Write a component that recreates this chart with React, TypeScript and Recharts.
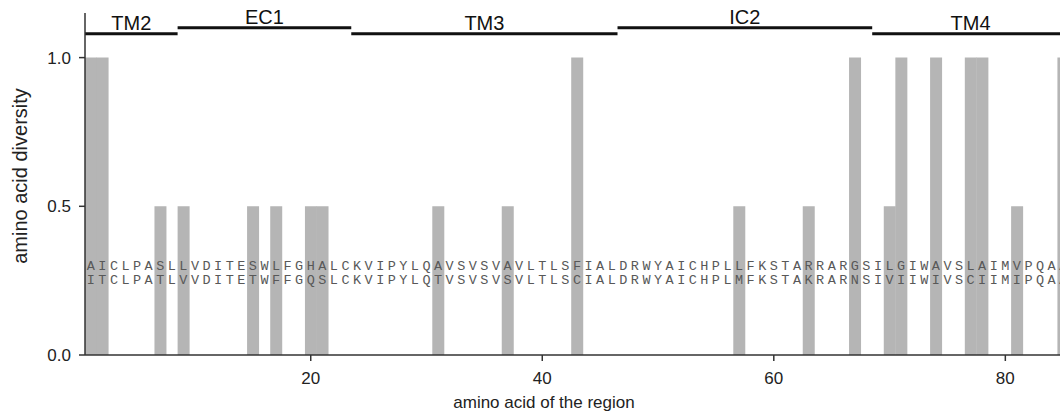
import React from 'react';
import { ComposedChart, Bar, Scatter, XAxis, YAxis, ReferenceLine, Label } from 'recharts';

// amino acid positions of the region (categories)
const positions: number[] = [
  1, 2, 3, 4, 5, 6, 7, 8, 9, 10, 11, 12, 13, 14, 15, 16, 17, 18, 19, 20,
  21, 22, 23, 24, 25, 26, 27, 28, 29, 30, 31, 32, 33, 34, 35, 36, 37, 38, 39, 40,
  41, 42, 43, 44, 45, 46, 47, 48, 49, 50, 51, 52, 53, 54, 55, 56, 57, 58, 59, 60,
  61, 62, 63, 64, 65, 66, 67, 68, 69, 70, 71, 72, 73, 74, 75, 76, 77, 78, 79, 80,
  81, 82, 83, 84, 85,
];

// amino acid diversity per position
const diversity: number[] = [
  1, 1, 0, 0, 0, 0, 0.5, 0, 0.5, 0,
  0, 0, 0, 0, 0.5, 0, 0.5, 0, 0, 0.5,
  0.5, 0, 0, 0, 0, 0, 0, 0, 0, 0,
  0.5, 0, 0, 0, 0, 0, 0.5, 0, 0, 0,
  0, 0, 1, 0, 0, 0, 0, 0, 0, 0,
  0, 0, 0, 0, 0, 0, 0.5, 0, 0, 0,
  0, 0, 0.5, 0, 0, 0, 1, 0, 0, 0.5,
  1, 0, 0, 1, 0, 0, 1, 1, 0, 0,
  0.5, 0, 0, 0, 1,
];

// aligned sequences
const seqTop = 'AICLPASLLVDITESWLFGHALCKVIPYLQAVSVSVAVLTLSFIALDRWYAICHPLLFKSTARRARGSILGIWAVSLAIMVPQAA';
const seqBottom = 'ITCLPATLVVDITETWFFGQSLCKVIPYLQTVSVSVSVLTLSCIALDRWYAICHPLMFKSTAKRARNSIVIIWIVSCIIMIPQAA';

// membrane topology regions
const regionNames: string[] = ['TM2', 'EC1', 'TM3', 'IC2', 'TM4'];
const regionStarts: number[] = [0.5, 8.5, 23.5, 46.5, 68.5];
const regionEnds: number[] = [8.5, 23.5, 46.5, 68.5, 85.5];

const xTicks: number[] = [20, 40, 60, 80];
const yTicks: number[] = [0, 0.5, 1];

// layout constants (y levels in data units)
const ROW_TOP_Y = 0.299;
const ROW_BOTTOM_Y = 0.251;
const LEVEL_LOW = 1.08;
const LEVEL_HIGH = 1.1;

const data = positions.map((p, i) => ({ pos: p, v: diversity[i] }));
const seqPoints = [
  ...positions.map((p, i) => ({ pos: p, v: ROW_TOP_Y, ch: seqTop[i] })),
  ...positions.map((p, i) => ({ pos: p, v: ROW_BOTTOM_Y, ch: seqBottom[i] })),
];

const SANS = "'Liberation Sans', Arial, Helvetica, sans-serif";
const SEQ_FONT = "'Liberation Mono', 'Courier New', monospace";

const renderChar = (props: any) => {
  const { cx, cy, payload } = props;
  if (cx == null || cy == null) return <g />;
  return (
    <text
      x={cx}
      y={cy}
      textAnchor="middle"
      dominantBaseline="central"
      fontFamily={SEQ_FONT}
      fontSize={13.5}
      fill="#585858"
    >
      {payload.ch}
    </text>
  );
};

export default function App() {
  return (
    <div
      style={{
        position: 'fixed',
        left: 0,
        top: 0,
        width: 1060,
        height: 413,
        overflow: 'hidden',
        background: '#fff',
      }}
    >
      <ComposedChart
        width={1070}
        height={413}
        data={data}
        margin={{ top: 13, right: 1, left: 0, bottom: 0 }}
        barCategoryGap={0}
        barGap={0}
      >
        <XAxis
          dataKey="pos"
          type="number"
          domain={[0.5, 85.5]}
          ticks={xTicks}
          allowDataOverflow
          height={58}
          tickSize={6}
          tickMargin={11}
          stroke="#333"
          strokeWidth={1.5}
          tick={{ fill: '#222', fontSize: 17, fontFamily: SANS }}
        >
          <Label
            value="amino acid of the region"
            position="insideBottom"
            offset={5}
            dx={-33}
            fill="#222"
            fontSize={17}
            fontFamily={SANS}
          />
        </XAxis>
        <XAxis xAxisId="seq" dataKey="pos" type="number" domain={[0.5, 85.5]} hide allowDataOverflow />
        <YAxis
          type="number"
          domain={[0, 1.15]}
          ticks={yTicks}
          allowDataOverflow
          width={85}
          tickSize={6}
          tickMargin={8}
          stroke="#333"
          strokeWidth={1.5}
          tickFormatter={(v: number) => v.toFixed(1)}
          tick={{ fill: '#222', fontSize: 17, fontFamily: SANS }}
        >
          <Label
            value="amino acid diversity"
            angle={-90}
            position="insideLeft"
            offset={20}
            dy={-8}
            fill="#222"
            fontSize={20}
            fontFamily={SANS}
            style={{ textAnchor: 'middle' }}
          />
        </YAxis>
        <Bar dataKey="v" fill="#b5b5b5" isAnimationActive={false} />
        <Scatter
          xAxisId="seq"
          data={seqPoints}
          dataKey="v"
          shape={renderChar}
          isAnimationActive={false}
        />
        {regionNames.map((name, i) => (
          <ReferenceLine
            key={name}
            segment={[
              { x: regionStarts[i], y: i % 2 === 0 ? LEVEL_LOW : LEVEL_HIGH },
              { x: regionEnds[i], y: i % 2 === 0 ? LEVEL_LOW : LEVEL_HIGH },
            ]}
            stroke="#111"
            strokeWidth={3}
            ifOverflow="visible"
            label={{ value: name, position: 'top', offset: 4, fill: '#111', fontSize: 20, fontFamily: SANS }}
          />
        ))}
      </ComposedChart>
    </div>
  );
}
